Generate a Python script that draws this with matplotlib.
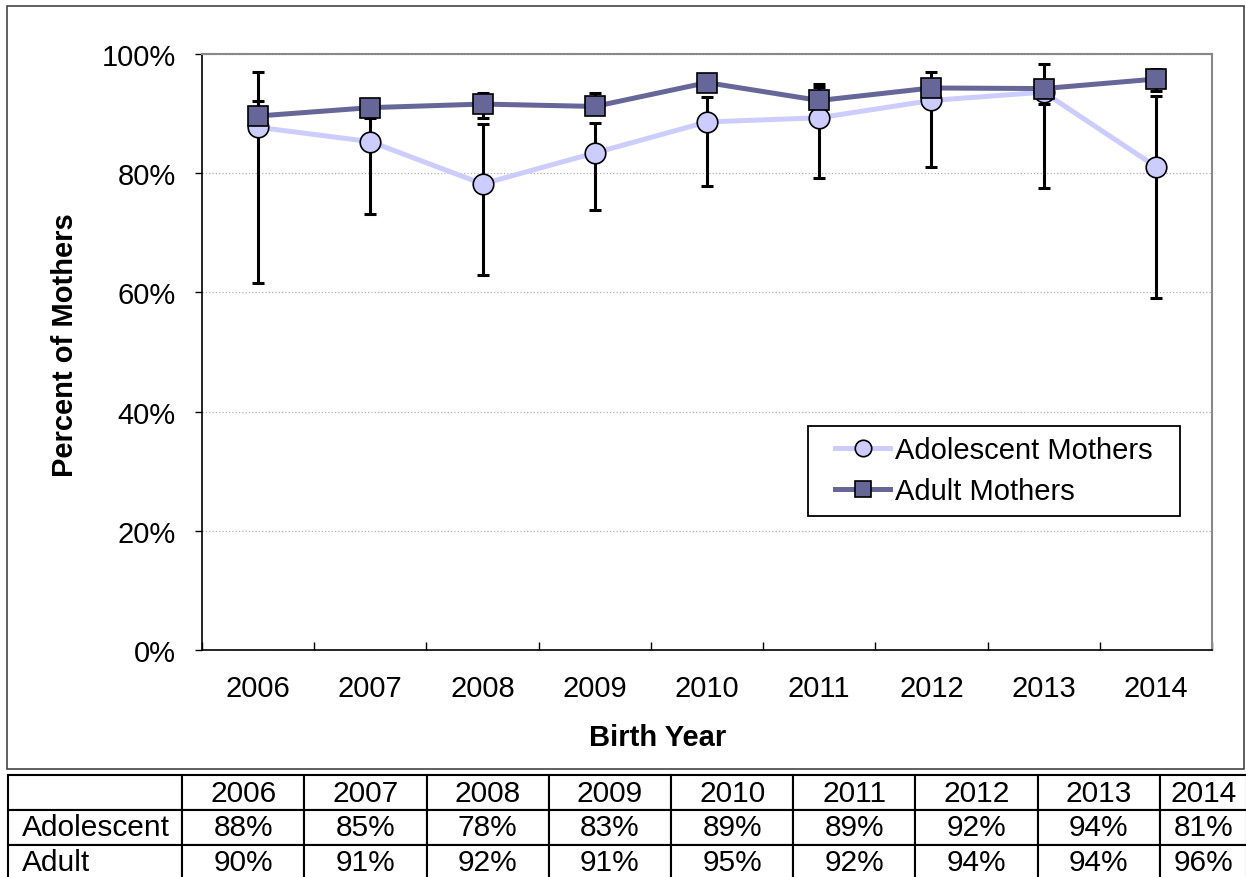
import matplotlib
matplotlib.use("Agg")
import matplotlib.pyplot as plt
from matplotlib.patches import Rectangle
import numpy as np

plt.rcParams['font.family'] = ['Liberation Sans', 'DejaVu Sans']

years = ['2006', '2007', '2008', '2009', '2010', '2011', '2012', '2013', '2014']

# percent of mothers, with lower / upper confidence limits
adolescent = [87.7, 85.3, 78.2, 83.4, 88.6, 89.3, 92.2, 93.6, 81.1]
adolescent_lo = [61.5, 73.2, 63.0, 73.9, 77.9, 79.2, 81.0, 77.6, 59.0]
adolescent_hi = [92.1, 89.2, 88.3, 88.4, 92.8, 94.5, 97.0, 98.4, 93.0]

adult = [89.6, 91.0, 91.6, 91.2, 95.2, 92.2, 94.3, 94.2, 95.8]
adult_lo = [87.0, 90.0, 89.3, 90.0, 94.0, 90.8, 93.2, 91.6, 93.8]
adult_hi = [96.9, 92.0, 93.5, 93.5, 96.4, 94.9, 95.4, 95.5, 97.4]

light = '#CCCCFF'
dark = '#666699'
W, H = 1246, 878
FS = 21

fig = plt.figure(figsize=(W / 100, H / 100), dpi=100)

# chart area frame
fig.patches.append(Rectangle((7 / W, 1 - 770 / H), (1244 - 7) / W, (770 - 7) / H,
                             transform=fig.transFigure, fill=False,
                             edgecolor='#444444', linewidth=1.2))

ax = fig.add_axes([202 / W, 1 - 651 / H, (1212 - 202) / W, (651 - 55) / H])
x = np.arange(len(years))

def err(vals, lo, hi):
    v = np.array(vals)
    return [v - np.array(lo), np.array(hi) - v]

ax.errorbar(x, adolescent, yerr=err(adolescent, adolescent_lo, adolescent_hi), fmt='none',
            ecolor='black', elinewidth=2.2, capsize=4.5, capthick=2.2, zorder=2)
ax.errorbar(x, adult, yerr=err(adult, adult_lo, adult_hi), fmt='none',
            ecolor='black', elinewidth=2.2, capsize=4.5, capthick=2.2, zorder=2)

ax.plot(x, adolescent, color=light, lw=3.6, marker='o', ms=14.8, mfc=light,
        mec='black', mew=1.2, label='Adolescent Mothers', zorder=3)
ax.plot(x, adult, color=dark, lw=3.6, marker='s', ms=14, mfc=dark,
        mec='black', mew=1.2, label='Adult Mothers', zorder=4)

ax.set_xlim(-0.5, len(years) - 0.5)
ax.set_ylim(0, 100)
ax.set_yticks(range(0, 101, 20))
ax.set_yticklabels([f'{v}%' for v in range(0, 101, 20)], fontsize=FS)
ax.tick_params(axis='y', direction='out', length=5, width=1, pad=14)
ax.yaxis.grid(True, linestyle=':', color='#b0b0b0', linewidth=0.9)
ax.set_axisbelow(True)

ax.set_xticks(np.arange(-0.5, len(years)), labels=[])
ax.tick_params(axis='x', which='major', direction='in', length=6, width=1)
ax.set_xticks(x, labels=years, minor=True)
ax.tick_params(axis='x', which='minor', length=0, pad=17, labelsize=FS)

for side in ('top', 'right'):
    ax.spines[side].set_color('#888888')
    ax.spines[side].set_linewidth(1.5)
for side in ('left', 'bottom'):
    ax.spines[side].set_color('black')
    ax.spines[side].set_linewidth(1.2)

fig.text(65 / W, 1 - 345 / H, 'Percent of Mothers', rotation=90, ha='center', va='center',
         fontsize=FS, fontweight='bold')
fig.text(658 / W, 1 - 738 / H, 'Birth Year', ha='center', va='center',
         fontsize=FS, fontweight='bold')

# legend entries without frame; the box is drawn separately for wider side padding
ax.add_patch(Rectangle((808 / W, 1 - 517 / H), (1180 - 808) / W, (517 - 427) / H,
                       transform=fig.transFigure, facecolor='white', clip_on=False,
                       edgecolor='black', linewidth=1.3, zorder=5))
leg = ax.legend(loc='upper left', bbox_to_anchor=(835 / W, 1 - 437 / H),
                bbox_transform=fig.transFigure, fontsize=FS, frameon=False,
                borderaxespad=0, borderpad=0, handlelength=1.9,
                handletextpad=0.15, labelspacing=0.46, markerscale=0.8)
leg.set_zorder(6)

# data table under the chart
tax = fig.add_axes([8 / W, 1 - 881 / H, (1247 - 8) / W, (881 - 776) / H])
tax.axis('off')
cells = [[''] + years,
         ['Adolescent'] + [f'{round(v)}%' for v in adolescent],
         ['Adult'] + [f'{round(v)}%' for v in adult]]
widths = [174] + [122] * 8 + [87]
widths = [w / sum(widths) for w in widths]
tbl = tax.table(cellText=cells, colWidths=widths, cellLoc='center', bbox=[0, 0, 1, 1])
tbl.auto_set_font_size(False)
for (r, c), cell in tbl.get_celld().items():
    cell.set_linewidth(1.5)
    cell.set_edgecolor('black')
    cell.get_text().set_fontsize(FS + 0.5)
    if c == 0:
        cell.get_text().set_ha('left')
        cell.PAD = 0.08
        cell._loc = 'left'

fig.savefig('out.png', dpi=100)
